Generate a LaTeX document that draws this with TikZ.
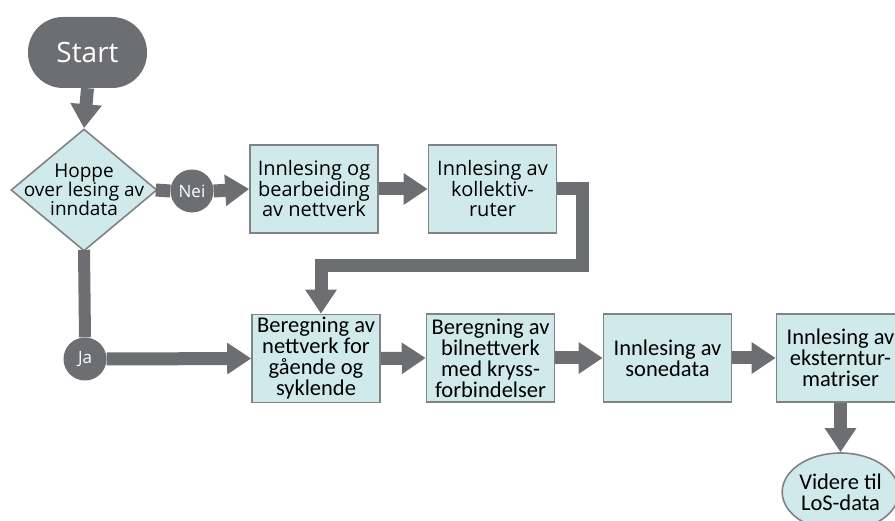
\documentclass[tikz,border=0pt]{standalone}
\usepackage{fontspec}
\setmainfont{Open Sans}
\newfontfamily\topfont{Open Sans}
\newfontfamily\calfont{Carlito}
\usetikzlibrary{arrows.meta,shapes.geometric}
\definecolor{flowgray}{HTML}{6D6E71}
\definecolor{boxfill}{HTML}{D0EAEC}
\definecolor{boxline}{HTML}{808285}
\begin{document}
\begin{tikzpicture}[x=1pt,y=-1pt,
  procbox/.style={draw=boxline,line width=1.6pt,fill=boxfill,minimum width=128pt,minimum height=88pt,inner sep=0pt,align=center},
  upper/.style={procbox,font=\topfont\fontsize{20}{20.5}\selectfont},
  lower/.style={procbox,font=\calfont\fontsize{22.5}{21}\selectfont},
  decision/.style={diamond,draw=boxline,line width=1.6pt,fill=boxfill,minimum width=146pt,minimum height=122pt,inner sep=0pt},
  answer/.style={circle,fill=flowgray,text=white,minimum size=43pt,inner sep=0pt,font=\topfont\fontsize{17}{17}\selectfont},
  shaft/.style={draw=flowgray,line width=13pt},
  bigarrow/.style={shaft,-{Triangle[length=24pt,width=30pt]}},
]
\useasboundingbox (0,0) rectangle (895,521);
\clip (0,0) rectangle (895,521);

% nodes
\node[fill=flowgray,rounded corners=35pt,minimum width=119pt,minimum height=71pt,inner sep=0pt,
      text=white,font=\topfont\fontsize{28}{28}\selectfont] (start) at (87.5,52.5) {Start};
\node[decision,label={[font=\topfont\fontsize{19}{19}\selectfont,align=center]center:Hoppe\\over lesing av\\inndata}] (dia) at (84,190) {};
\node[answer] (nei) at (192,191) {Nei};
\node[answer] (ja) at (85,359) {Ja};

\node[upper] (b1) at (314,189) {Innlesing og\\bearbeiding\\av nettverk};
\node[upper] (b2) at (492.5,189) {Innlesing av\\kollektiv-\\ruter};

\node[lower] (b3) at (316,358.5) {Beregning av\\nettverk for\\gående og\\syklende};
\node[lower] (b4) at (490.5,358) {Beregning av\\bilnettverk\\med kryss-\\forbindelser};
\node[lower] (b5) at (667.5,358) {Innlesing av\\sonedata};
\node[lower] (b6) at (840.5,358) {Innlesing av\\eksterntur-\\matriser};
\node[ellipse,draw=boxline,line width=1.6pt,fill=boxfill,minimum width=116pt,minimum height=78pt,inner sep=0pt,
      align=center,font=\calfont\fontsize{22.5}{21}\selectfont] (end) at (840.5,492) {Videre til\\LoS-data};

\coordinate (elbowR) at (582.5,265.5);

% connectors
\draw[bigarrow] (start.south) -- (dia.north);
\draw[shaft] ([xshift=-2pt]dia.east) -- (nei.west);
\draw[bigarrow] (nei.east) -- (b1.west);
\draw[bigarrow] (b1.east) -- (b2.west);
\draw[bigarrow,line join=miter] (b2.east) -| (elbowR) -| ([xshift=5pt]b3.north);
\draw[shaft,line width=12pt] ([yshift=2pt]dia.south) -- (ja.north);
\draw[bigarrow] (ja.east) -- (b3.west);
\draw[bigarrow] (b3.east) -- (b4.west);
\draw[bigarrow] (b4.east) -- (b5.west);
\draw[bigarrow] (b5.east) -- (b6.west);
\draw[bigarrow] (b6.south) -- (end.north);
\end{tikzpicture}
\end{document}
